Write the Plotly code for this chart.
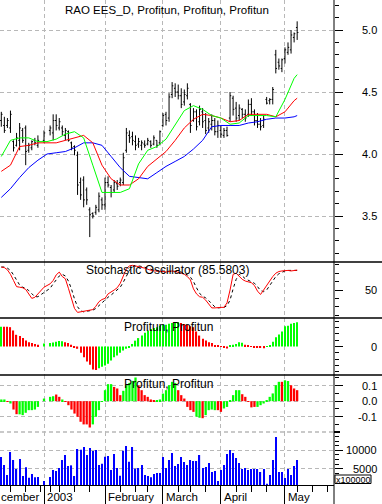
import plotly.graph_objects as go
from plotly.subplots import make_subplots

# ---------------- data (one slot per trading day; None = no bar) ----------------
slots = list(range(98))
month_start_slots = [14, 34, 53, 72, 93]
month_labels = ["2003", "February", "March", "April", "May"]
first_month_label = "cember"
week_tick_slots = [3, 8, 13, 16, 19, 24, 29, 39, 44, 48, 58, 62, 67, 77, 82, 87, 97, 102, 107]

price_open = [4.27, 4.23, 4.23, 4.21, 4.10, 4.07, 4.11, 4.19, 4.21, 4.03, 4.05, 4.11, 4.07, None, 4.11, None,
              4.19, 4.17, 4.27, 4.21, 4.21, 4.15, 4.18, 4.09, 4.06, 3.99, 3.77, 3.79, 3.71, 3.55, 3.52, 3.53,
              3.55, 3.63, 3.59, 3.77, 3.73, 3.71, 3.76, 3.77, 3.77, 4.03, 4.15, 4.14, 4.10, 4.08, 4.07, 4.08,
              4.08, 4.10, 4.08, 4.11, 4.09, 4.23, 4.32, 4.29, 4.48, 4.53, 4.50, 4.47, 4.42, 4.47, 4.40, 4.27,
              4.34, 4.26, 4.34, 4.27, 4.21, 4.24, 4.27, 4.18, 4.19, 4.15, 4.19, 4.29, 4.45, 4.37, 4.31, 4.36,
              4.32, 4.32, 4.40, 4.34, 4.27, 4.24, 4.23, 4.44, 4.43, 4.44, 4.80, 4.74, 4.69, 4.77, 4.82, 4.84,
              4.94, 5.02]
price_high = [4.34, 4.30, 4.29, 4.35, 4.11, 4.17, 4.25, 4.21, 4.23, 4.09, 4.11, 4.13, 4.15, None, 4.19, None,
              4.23, 4.32, 4.32, 4.29, 4.23, 4.21, 4.19, 4.10, 4.07, 4.02, 3.81, 3.82, 3.73, 3.57, 3.53, 3.59,
              3.69, 3.65, 3.81, 3.82, 3.75, 3.79, 3.79, 3.81, 4.01, 4.21, 4.19, 4.18, 4.15, 4.13, 4.11, 4.11,
              4.13, 4.11, 4.15, 4.11, 4.19, 4.33, 4.34, 4.49, 4.58, 4.57, 4.56, 4.53, 4.52, 4.57, 4.41, 4.37,
              4.36, 4.39, 4.37, 4.33, 4.29, 4.32, 4.29, 4.27, 4.23, 4.21, 4.22, 4.50, 4.47, 4.42, 4.40, 4.37,
              4.36, 4.44, 4.45, 4.36, 4.33, 4.29, 4.31, 4.46, 4.45, 4.54, 4.84, 4.77, 4.77, 4.86, 4.90, 5.00,
              4.98, 5.07]
price_low = [4.22, 4.17, 4.21, 4.17, 4.02, 4.06, 4.03, 4.09, 3.91, 4.01, 4.03, 4.07, 4.05, None, 4.09, None,
             4.15, 4.11, 4.19, 4.19, 4.15, 4.11, 4.10, 4.03, 3.99, 3.67, 3.63, 3.57, 3.59, 3.33, 3.48, 3.51,
             3.53, 3.55, 3.55, 3.73, 3.65, 3.69, 3.71, 3.74, 3.75, 4.01, 4.09, 4.07, 4.03, 4.05, 4.03, 4.05,
             4.07, 4.05, 4.07, 4.05, 4.07, 4.22, 4.23, 4.26, 4.45, 4.46, 4.44, 4.37, 4.39, 4.44, 4.17, 4.26,
             4.19, 4.23, 4.21, 4.16, 4.17, 4.19, 4.15, 4.13, 4.13, 4.13, 4.14, 4.26, 4.31, 4.26, 4.27, 4.29,
             4.26, 4.30, 4.31, 4.23, 4.21, 4.19, 4.21, 4.40, 4.40, 4.40, 4.65, 4.68, 4.66, 4.73, 4.80, 4.81,
             4.90, 4.92]
price_close = [4.32, 4.19, 4.27, 4.32, 4.05, 4.13, 4.21, 4.11, 4.02, 4.07, 4.10, 4.09, 4.11, None, 4.17, None,
               4.21, 4.27, 4.23, 4.26, 4.18, 4.19, 4.11, 4.05, 4.03, 3.75, 3.67, 3.63, 3.63, 3.51, 3.50, 3.57,
               3.66, 3.59, 3.77, 3.75, 3.69, 3.77, 3.74, 3.79, 3.97, 4.17, 4.13, 4.11, 4.07, 4.10, 4.09, 4.07,
               4.11, 4.07, 4.13, 4.07, 4.18, 4.31, 4.27, 4.46, 4.55, 4.50, 4.47, 4.40, 4.48, 4.53, 4.23, 4.34,
               4.22, 4.36, 4.26, 4.19, 4.26, 4.27, 4.18, 4.23, 4.16, 4.19, 4.15, 4.47, 4.36, 4.29, 4.37, 4.32,
               4.29, 4.40, 4.34, 4.27, 4.24, 4.22, 4.28, 4.41, 4.44, 4.52, 4.69, 4.71, 4.76, 4.84, 4.86, 4.96,
               4.97, 4.98]

ma_slots = [0, 3, 6, 9, 12, 15, 18, 21, 24, 27, 30, 33, 36, 39, 42, 45, 48, 51, 54, 57, 60, 63, 66, 69,
            72, 75, 78, 81, 84, 87, 90, 93, 96, 97]
ma_green = [3.98, 4.11, 4.13, 4.13, 4.10, 4.10, 4.12, 4.16, 4.18, 4.13, 3.91, 3.69, 3.69, 3.69, 3.72, 3.92,
            4.03, 4.06, 4.12, 4.23, 4.35, 4.39, 4.36, 4.31, 4.29, 4.24, 4.25, 4.31, 4.31, 4.31, 4.30, 4.44,
            4.61, 4.64]
ma_red = [3.86, 3.91, 4.06, 4.07, 4.09, 4.09, 4.09, 4.11, 4.13, 4.15, 4.09, 3.91, 3.80, 3.75, 3.75, 3.80,
          3.90, 3.96, 4.02, 4.11, 4.21, 4.28, 4.32, 4.31, 4.29, 4.26, 4.27, 4.32, 4.32, 4.32, 4.30, 4.34,
          4.43, 4.45]
ma_blue = [3.65, 3.72, 3.81, 3.89, 3.95, 4.00, 4.01, 4.02, 4.05, 4.09, 4.09, 4.07, 3.98, 3.89, 3.82, 3.81,
           3.80, 3.85, 3.90, 3.94, 3.98, 4.04, 4.11, 4.22, 4.23, 4.23, 4.23, 4.25, 4.26, 4.28, 4.29, 4.29,
           4.30, 4.31]

stoch_k = [91, 90, 86, 78, 67, 56, 55, 54, 51, 42, 35, 37, 43, None, 55, None, 61, 67, 77, 82,
           74, 70, 53, 33, 17, 10, 11, 12, 14, 14, 15, 21, 29, 33, 35, 43, 46, 50, 54, 62,
           75, 88, 93, 94, 93, 92, 91, 89, 87, 85, 84, 84, 84, 83, 82, 83, 84, 83, 82, 80,
           78, 74, 68, 52, 43, 38, 37, 32, 25, 18, 18, 19, 19, 19, 27, 50, 78, 80, 75, 69,
           66, 65, 63, 58, 48, 42, 50, 58, 67, 74, 80, 83, 84, 85, 85, 84, 85, 85.5803]
stoch_d = [91, 91, 89, 85, 77, 67, 59, 55, 53, 49, 43, 38, 38, None, 45, None, 53, 61, 68, 75,
           78, 75, 66, 52, 34, 20, 13, 11, 12, 13, 14, 17, 22, 28, 32, 37, 41, 46, 50, 55,
           64, 75, 85, 92, 93, 93, 92, 91, 89, 87, 85, 84, 84, 84, 83, 83, 83, 83, 83, 82,
           80, 77, 73, 65, 54, 44, 39, 36, 31, 25, 20, 18, 19, 19, 22, 32, 52, 69, 78, 75,
           70, 67, 65, 62, 56, 49, 47, 50, 58, 66, 74, 79, 82, 84, 85, 85, 85, 85]
stoch_levels = [20, 80]
stoch_last = "85.5803"

hist1 = [0.078, 0.078, 0.078, 0.076, 0.063, 0.046, 0.041, 0.033, 0.024, 0.017, 0.014, 0.010, 0.007, None,
         0.012, None, 0.014, 0.016, 0.019, 0.022, 0.021, 0.017, 0.014, 0.007, -0.005, -0.009, -0.025,
         -0.042, -0.059, -0.072, -0.090, -0.092, -0.085, -0.080, -0.075, -0.068, -0.055, -0.042, -0.035,
         -0.025, -0.016, -0.009, -0.003, 0.010, 0.023, 0.033, 0.043, 0.054, 0.063, 0.069, 0.073, 0.076,
         0.082, 0.085, 0.085, 0.089, 0.092, 0.095, 0.096, 0.092, 0.088, 0.084, 0.080, 0.076, 0.059, 0.043,
         0.030, 0.024, 0.017, 0.014, 0.006, 0.003, 0.001, -0.002, -0.008, 0.002, 0.007, 0.010, 0.017,
         0.015, 0.007, 0.004, 0.001, -0.003, -0.004, -0.006, -0.007, 0.001, 0.006, 0.019, 0.036, 0.047,
         0.059, 0.080, 0.082, 0.089, 0.092, 0.095]
hist1_dir = (["up"] + ["down"] * 12 + [None, "up", None] + ["up"] * 5 + ["down"] * 11 + ["up"] * 27
             + ["down"] * 16 + ["up"] * 5 + ["down"] * 7 + ["up"] * 11)
hist1_levels = [-0.1, 0.1]

hist2 = [0.011, 0.011, -0.005, -0.015, -0.054, -0.084, -0.085, -0.09, -0.075, -0.058, -0.058, -0.054,
         -0.037, None, 0.017, None, 0.028, 0.032, 0.043, 0.028, 0.011, -0.004, -0.026, -0.054, -0.080,
         -0.101, -0.133, -0.15, -0.15, -0.17, -0.15, -0.101, -0.058, -0.004, 0.071, 0.11, 0.11, 0.092,
         0.082, 0.039, 0.067, 0.103, 0.118, 0.131, 0.153, 0.103, 0.071, 0.039, 0.028, 0.011, 0.006, 0.002,
         0.011, 0.049, 0.071, 0.103, 0.125, 0.118, 0.071, 0.039, 0.017, -0.037, -0.058, -0.069, -0.10,
         -0.107, -0.11, -0.09, -0.058, -0.054, -0.058, -0.058, -0.069, -0.047, -0.037, 0.006, 0.039,
         0.071, 0.071, 0.045, 0.028, -0.004, -0.04, -0.037, -0.037, -0.026, -0.015, 0.004, 0.028, 0.05,
         0.103, 0.125, 0.125, 0.135, 0.13, 0.103, 0.082, 0.071]
hist2_dir = ["up", "up", "down", "up", "down", "down", "up", "up", "up", "up", "up", "up", "up", None, "up",
             None, "up", "up", "down", "down", "up", "down", "down", "down", "down", "down", "down", "down",
             "down", "down", "up", "up", "up", "up", "up", "up", "up", "down", "down", "down", "up", "up",
             "up", "up", "up", "down", "down", "down", "down", "down", "down", "up", "up", "up", "up", "up",
             "up", "up", "down", "down", "down", "down", "down", "down", "up", "up", "down", "up", "up", "up",
             "up", "down", "down", "up", "up", "up", "up", "up", "up", "down", "down", "down", "down", "down",
             "up", "up", "up", "up", "up", "up", "up", "up", "down", "up", "up", "down", "down", "down"]

volume = [8180, 6000, 3290, 9540, 7360, 4920, 7640, 3020, 5370, 2560,
          3560, 2650, 2740, None, 1660, None, 2740, 4650, 4370, 5190,
          7360, 8720, 5730, 5910, 3020, 10350, 10170, 10900, 8720, 10620,
          9810, 10080, 6000, 6370, 8270, 8450, 4650, 8990, 5190, 3110,
          9900, 11170, 6910, 10900, 5010, 5190, 6000, 3290, 3020, 2650,
          3560, 3830, 3830, 8180, 5190, 7360, 9270, 5730, 6280, 8180,
          6820, 6000, 7360, 7090, 7090, 8720, 5190, 5460, 6550, 4100,
          4370, 1660, 4650, 6000, 8990, 10080, 9270, 7910, 6550, 4920,
          5190, 4650, 4920, 4920, 4920, 4100, 4920, 920, 3290, 7360,
          13610, 4100, 4100, 2470, 4920, 3290, 5730, 7360]

price_ticks = [3.5, 4.0, 4.5, 5.0]
price_tick_text = ["3.5", "4.0", "4.5", "5.0"]
stoch_ticks = [50]
stoch_tick_text = ["50"]
hist1_ticks = [0]
hist1_tick_text = ["0"]
hist2_ticks = [-0.1, 0.0, 0.1]
hist2_tick_text = ["-0.1", "0.0", "0.1"]
vol_ticks = [5000, 10000]
vol_tick_text = ["5000", "10000"]

title_main = "RAO EES_D, Profitun, Profitun, Profitun"
title_stoch = "Stochastic Oscillator (" + stoch_last + ")"
title_ind = "Profitun, Profitun"
vol_unit = "x100000"

# ---------------- layout helpers ----------------
W, H = 382, 504
ML, MR, MT, MB = 0, 48, 0, 19
PW, PH = W - ML - MR, H - MT - MB
FONT = "Liberation Sans, Arial, sans-serif"
GRID = "#b8b8b8"
GDASH = "4px,3px"
GREEN, RED, BLUE = "#00ff00", "#ff0000", "#0000ff"


def fx(px):
    return (px - ML) / PW


def fy(py):
    return (PH - (py - MT)) / PH


def col(d):
    return GREEN if d == "up" else (RED if d == "down" else "rgba(0,0,0,0)")


fig = make_subplots(rows=5, cols=1, shared_xaxes=True, vertical_spacing=0,
                    row_heights=[262, 56, 57, 57, 53])

# price bars
ok = [i for i in slots if price_open[i] is not None]
fig.add_trace(go.Ohlc(x=ok, open=[price_open[i] for i in ok], high=[price_high[i] for i in ok],
                      low=[price_low[i] for i in ok], close=[price_close[i] for i in ok],
                      increasing=dict(line=dict(color="black", width=1)),
                      decreasing=dict(line=dict(color="black", width=1)),
                      tickwidth=0.4, hoverinfo="skip", showlegend=False), row=1, col=1)
for ys, c in ((ma_blue, BLUE), (ma_red, RED), (ma_green, GREEN)):
    fig.add_trace(go.Scatter(x=ma_slots, y=ys, mode="lines", line=dict(color=c, width=1),
                             hoverinfo="skip", showlegend=False), row=1, col=1)

# stochastic
for lv in stoch_levels:
    fig.add_hline(y=lv, row=2, col=1, line=dict(color=BLUE, width=1.3), layer="below")
fig.add_trace(go.Scatter(x=slots, y=stoch_d, mode="lines", connectgaps=True,
                         line=dict(color="black", width=1, dash="3px,3px"), hoverinfo="skip",
                         showlegend=False), row=2, col=1)
fig.add_trace(go.Scatter(x=slots, y=stoch_k, mode="lines", connectgaps=True,
                         line=dict(color=RED, width=1), hoverinfo="skip", showlegend=False), row=2, col=1)

# indicator 1
for lv in hist1_levels:
    fig.add_hline(y=lv, row=3, col=1, line=dict(color=GRID, width=1, dash=GDASH), layer="below")
fig.add_trace(go.Bar(x=slots, y=hist1, width=0.38, marker=dict(color=[col(d) for d in hist1_dir], line_width=0),
                     hoverinfo="skip", showlegend=False), row=3, col=1)

# indicator 2
fig.add_trace(go.Bar(x=slots, y=hist2, width=0.75, marker=dict(color=[col(d) for d in hist2_dir], line_width=0),
                     hoverinfo="skip", showlegend=False), row=4, col=1)

# volume
fig.add_trace(go.Bar(x=slots, y=volume, width=0.38, marker=dict(color=BLUE, line_width=0),
                     hoverinfo="skip", showlegend=False), row=5, col=1)

# axes
xr = [-0.43, 109.08]
for r in range(1, 6):
    fig.update_xaxes(range=xr, tickmode="array", tickvals=month_start_slots, showgrid=True, gridcolor=GRID,
                     griddash=GDASH, gridwidth=1, zeroline=False, showticklabels=False, ticks="",
                     showline=False, rangeslider_visible=False, row=r, col=1)
fig.update_xaxes(ticks="outside", ticklen=19, tickcolor="black", tickwidth=1, showline=True,
                 linecolor="black", linewidth=1,
                 minor=dict(tickmode="array", tickvals=week_tick_slots, ticks="outside", ticklen=6,
                            tickcolor="black", tickwidth=1, showgrid=False),
                 row=5, col=1)

yspec = [
    (1, [3.129, 5.242], price_ticks, True, dict(tickmode="linear", tick0=0, dtick=0.1)),
    (2, [0, 100], stoch_ticks, False, dict(tickmode="array", tickvals=[5, 20, 35, 65, 80, 95])),
    (3, [-0.112, 0.112], hist1_ticks, False,
     dict(tickmode="array", tickvals=[-0.1, -0.075, -0.05, -0.025, 0.025, 0.05, 0.075, 0.1])),
    (4, [-0.199, 0.169], hist2_ticks, True, dict(tickmode="linear", tick0=0, dtick=0.05)),
    (5, [570, 14970], vol_ticks, True, dict(tickmode="linear", tick0=0, dtick=1250)),
]
for r, rng, tv, grid, mn in yspec:
    mn.update(ticks="outside", ticklen=4, tickcolor="black", tickwidth=1, showgrid=False)
    fig.update_yaxes(range=rng, side="right", tickmode="array", tickvals=tv, showgrid=grid, gridcolor=GRID,
                     griddash=GDASH, gridwidth=1, zeroline=False, showticklabels=False, ticks="outside",
                     ticklen=8, tickcolor="black", tickwidth=1, showline=False, minor=mn, row=r, col=1)

# frame lines
shapes = [
    dict(type="line", xref="paper", yref="paper", x0=1, x1=1, y0=fy(H), y1=1,
         line=dict(color="black", width=1)),
    dict(type="line", xref="paper", yref="paper", x0=0, x1=fx(W), y0=fy(262), y1=fy(262),
         line=dict(color="black", width=1.5)),
    dict(type="line", xref="paper", yref="paper", x0=0, x1=fx(W), y0=fy(318), y1=fy(318),
         line=dict(color="black", width=1.5)),
    dict(type="line", xref="paper", yref="paper", x0=0, x1=fx(W), y0=fy(375), y1=fy(375),
         line=dict(color="black", width=1.5)),
    dict(type="line", xref="paper", yref="paper", x0=0, x1=1, y0=fy(432), y1=fy(432),
         line=dict(color=GRID, width=1.5, dash=GDASH), layer="below"),
    dict(type="line", xref="paper", yref="paper", x0=1, x1=fx(340), y0=fy(432), y1=fy(432),
         line=dict(color="black", width=2)),
    dict(type="rect", xref="paper", yref="paper", x0=fx(335), x1=fx(371), y0=fy(483.5), y1=fy(475),
         line=dict(color="black", width=1), fillcolor="white"),
]
fig.update_layout(shapes=list(fig.layout.shapes) + shapes)

ann = []


def text(t, x, y, xref="paper", yref="paper", xanchor="left", size=12, **kw):
    ann.append(dict(text=t, x=x, y=y, xref=xref, yref=yref, xanchor=xanchor, yanchor="middle",
                    showarrow=False, font=dict(family=FONT, size=size, color="black"), borderpad=0, **kw))


text(title_main, fx(64), fy(10), size=11.5)
text(title_stoch, fx(85), fy(270), size=12)
text(title_ind, fx(123), fy(326.5), size=12)
text(title_ind, fx(123), fy(384), size=12)

lab_x = fx(378)
for yref, vals, txts in (("y", price_ticks, price_tick_text), ("y2", stoch_ticks, stoch_tick_text),
                         ("y3", hist1_ticks, hist1_tick_text), ("y4", hist2_ticks, hist2_tick_text),
                         ("y5", vol_ticks, vol_tick_text)):
    for v, t in zip(vals, txts):
        text(t, lab_x, v, yref=yref, xanchor="right", size=11)

text(first_month_label, fx(0), fy(497.5), size=11.5)
for s, t in zip(month_start_slots, month_labels):
    text(t, s, fy(497.5), xref="x5", size=11.5, xshift=2)
text(vol_unit, fx(353), fy(479.5), xanchor="center", size=9)

fig.update_layout(annotations=ann, width=W, height=H,
                  margin=dict(l=ML, r=MR, t=MT, b=MB, pad=0),
                  paper_bgcolor="white", plot_bgcolor="white", showlegend=False,
                  font=dict(family=FONT, size=11, color="black"))

fig.write_html("out.html", config={"displayModeBar": False},
               post_script="document.body.style.margin='0';document.body.style.overflow='hidden';")
